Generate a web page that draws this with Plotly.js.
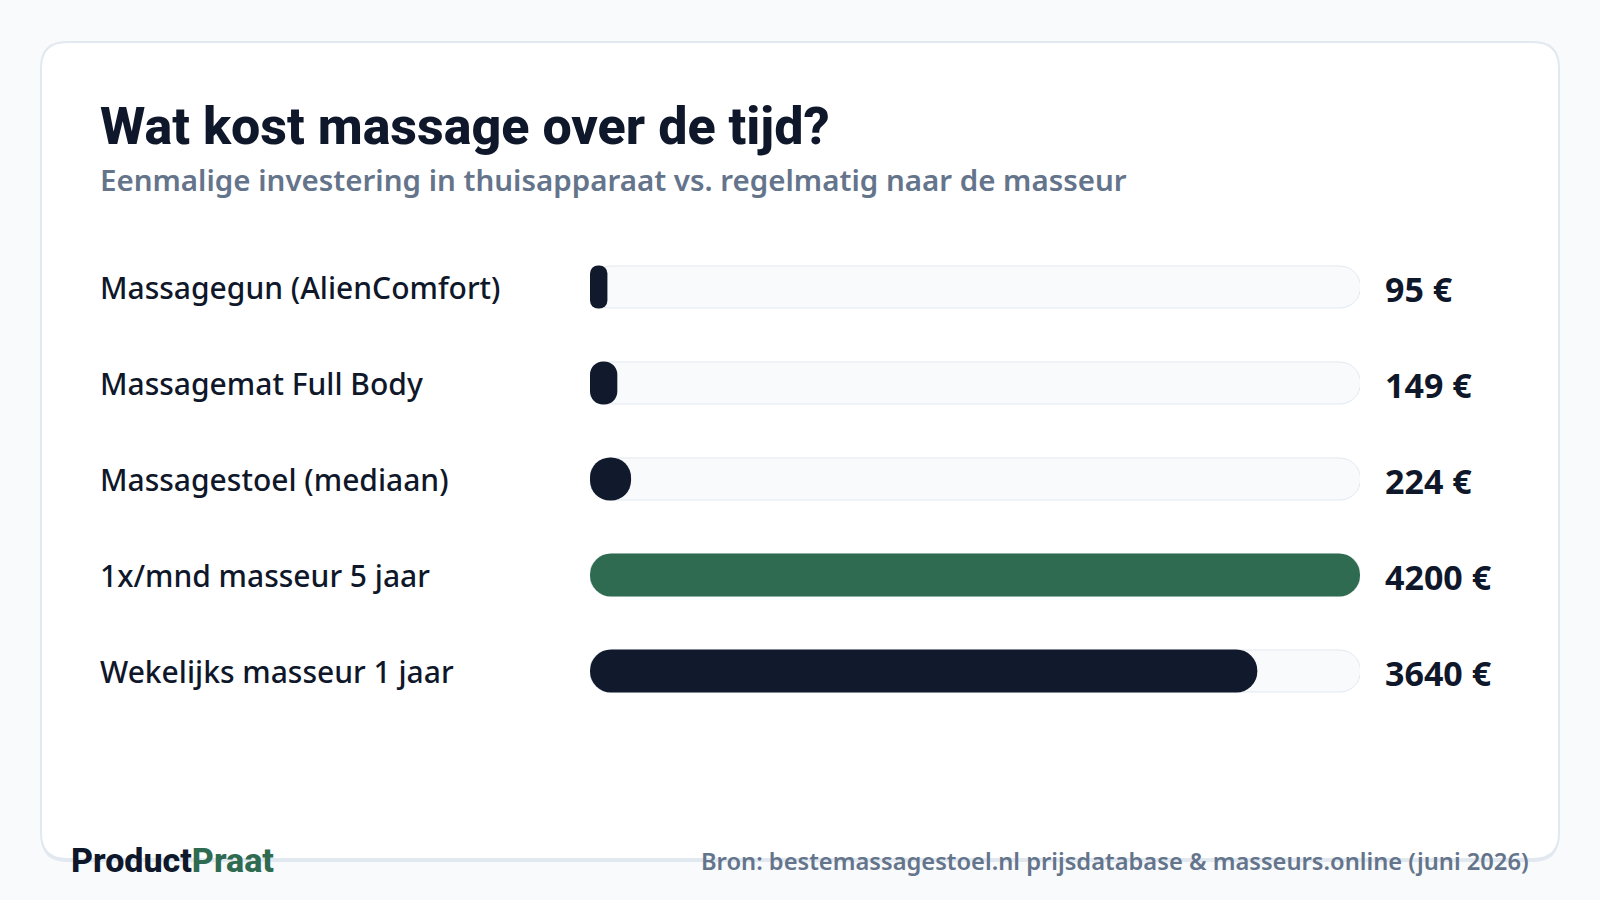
<!DOCTYPE html>
<html>
<head>
<meta charset="utf-8">
<script src="https://cdn.plot.ly/plotly-3.0.1.min.js"></script>
<style>
  html, body { margin: 0; padding: 0; background: #f8fafc; }
  #chart { width: 1600px; height: 900px; }
</style>
</head>
<body>
<div id="chart"></div>
<script>
// ---- DATA ----
const categories = [
  "Massagegun (AlienComfort)",
  "Massagemat Full Body",
  "Massagestoel (mediaan)",
  "1x/mnd masseur 5 jaar",
  "Wekelijks masseur 1 jaar"
];
const values = [95, 149, 224, 4200, 3640];
const currency = "€";
const highlightCategory = "1x/mnd masseur 5 jaar";

const titleText = "Wat kost massage over de tijd?";
const subtitleText = "Eenmalige investering in thuisapparaat vs. regelmatig naar de masseur";
const brandMain = "Product";
const brandAccent = "Praat";
const sourceText = "Bron: bestemassagestoel.nl prijsdatabase &amp; masseurs.online (juni 2026)";

// ---- STYLE / LAYOUT ----
const W = 1600, H = 900;
const DARK = "#111a2c";
const GREEN = "#2e6b50";
const MUTED = "#64748b";
const TRACK_FILL = "#f8fafc";
const TRACK_LINE = "#e2e8f0";
const LABEL_FONT = "Noto Sans";

const plotLeft = 590, plotRight = 1360;
const rowTop = 239, rowStep = 96;
const plotW = plotRight - plotLeft;
const xMax = Math.max(...values);
const pxPerUnit = plotW / xMax;
const barPx = 43;
const barW = barPx / rowStep;
const trackPx = 41;
const trackW = trackPx / rowStep;

const X = px => px / W;
const Y = py => 1 - py / H;

function roundRectPath(L, T, R, B, r) {
  return `M${X(L + r)},${Y(T)} L${X(R - r)},${Y(T)} Q${X(R)},${Y(T)} ${X(R)},${Y(T + r)} ` +
         `L${X(R)},${Y(B - r)} Q${X(R)},${Y(B)} ${X(R - r)},${Y(B)} ` +
         `L${X(L + r)},${Y(B)} Q${X(L)},${Y(B)} ${X(L)},${Y(B - r)} ` +
         `L${X(L)},${Y(T + r)} Q${X(L)},${Y(T)} ${X(L + r)},${Y(T)} Z`;
}

const traces = [];
// Track (background pill): border layer then fill layer
const fullTrack = categories.map(() => xMax);
const zeros = categories.map(() => 0);
[[TRACK_LINE, 2], [TRACK_FILL, 0]].forEach(([col, lw]) => {
  traces.push({
    type: "bar", orientation: "h",
    y: categories, x: fullTrack, base: zeros,
    width: trackW,
    marker: { color: col, line: { color: TRACK_LINE, width: lw }, cornerradius: trackPx / 2 },
    hoverinfo: "skip", showlegend: false
  });
});

// Value pills
categories.forEach((cat, i) => {
  const v = values[i];
  const wPx = v * pxPerUnit;
  const r = Math.min(barPx, wPx) / 2;
  const col = cat === highlightCategory ? GREEN : DARK;
  traces.push({
    type: "bar", orientation: "h",
    y: [cat], x: [v], base: [0],
    width: barW,
    marker: { color: col, line: { width: 0 }, cornerradius: r },
    hovertemplate: cat + ": " + v + " " + currency + "<extra></extra>",
    showlegend: false
  });
});

const annotations = [];
categories.forEach((cat, i) => {
  annotations.push({
    xref: "paper", yref: "y", x: X(98), y: cat,
    xanchor: "left", yanchor: "middle", showarrow: false,
    text: cat,
    font: { family: LABEL_FONT, size: 30, weight: 500, color: "#0f172a" }
  });
  annotations.push({
    xref: "paper", yref: "y", x: X(1383), y: cat, yshift: -2,
    xanchor: "left", yanchor: "middle", showarrow: false,
    text: values[i] + " " + currency,
    font: { family: LABEL_FONT, size: 34, weight: 700, color: "#0f172a" }
  });
});
annotations.push({
  xref: "paper", yref: "paper", x: X(98), y: Y(180),
  xanchor: "left", yanchor: "middle", showarrow: false,
  text: subtitleText,
  font: { family: LABEL_FONT, size: 29.5, weight: 600, color: MUTED }
});
annotations.push({
  xref: "paper", yref: "paper", x: X(69), y: Y(860),
  xanchor: "left", yanchor: "middle", showarrow: false,
  text: brandMain + '<span style="color:' + GREEN + '">' + brandAccent + '</span>',
  font: { family: "Roboto", size: 34, weight: 800, color: "#0f172a" }
});
annotations.push({
  xref: "paper", yref: "paper", x: X(1531), y: Y(861),
  xanchor: "right", yanchor: "middle", showarrow: false,
  text: sourceText,
  font: { family: LABEL_FONT, size: 23.7, weight: 600, color: MUTED }
});

const layout = {
  width: W, height: H,
  margin: { l: 0, r: 0, t: 0, b: 0, pad: 0 },
  paper_bgcolor: "#f8fafc",
  plot_bgcolor: "rgba(0,0,0,0)",
  barmode: "overlay",
  title: {
    text: titleText,
    x: X(100), xanchor: "left", xref: "container",
    y: Y(126), yanchor: "middle", yref: "container",
    font: { family: "Roboto", size: 52, weight: 800, color: "#0f172a" }
  },
  xaxis: {
    domain: [X(plotLeft), X(plotRight)],
    range: [0, xMax], autorange: false,
    showgrid: false, zeroline: false, showticklabels: false, showline: false, ticks: "",
    fixedrange: true
  },
  yaxis: {
    domain: [Y(rowTop + rowStep * categories.length), Y(rowTop)],
    type: "category",
    categoryorder: "array", categoryarray: categories,
    range: [categories.length - 0.5, -0.5], autorange: false,
    showgrid: false, zeroline: false, showticklabels: false, showline: false, ticks: "",
    fixedrange: true
  },
  shapes: [
    { type: "path", xref: "paper", yref: "paper", layer: "below",
      path: roundRectPath(41, 45, 1559, 862, 26),
      fillcolor: "#e2e8f0", line: { width: 0 } },
    { type: "path", xref: "paper", yref: "paper", layer: "below",
      path: roundRectPath(41, 42, 1559, 859, 26),
      fillcolor: "#ffffff", line: { color: "#e2e8f0", width: 2 } }
  ],
  annotations: annotations,
  hovermode: "closest"
};

Plotly.newPlot("chart", traces, layout, { displayModeBar: false, staticPlot: false });
</script>
</body>
</html>
